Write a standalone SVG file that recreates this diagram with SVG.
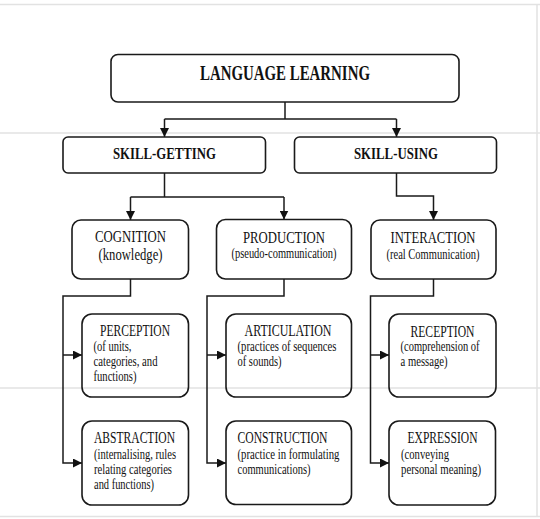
<svg xmlns="http://www.w3.org/2000/svg" width="540" height="519" viewBox="0 0 540 519">
  <defs>
    <marker id="arr" markerUnits="userSpaceOnUse" markerWidth="9" markerHeight="9" viewBox="0 0 10 10" refX="10" refY="5" orient="auto">
      <path d="M0,0 L10,5 L0,10 Z" fill="#111"/>
    </marker>
    <style>
      .frame{stroke:#e2e2e2;stroke-width:1.5;fill:none}
      .box{fill:none;stroke:#1a1a1a;stroke-width:1.6}
      .con{fill:none;stroke:#1a1a1a;stroke-width:1.5}
      .t text{fill:#111}
      .h1{font-size:20px;font-weight:bold;text-anchor:middle}
      .h2{font-size:17px;font-weight:bold;text-anchor:middle}
      .h3{font-size:16.5px}
      .d{font-size:14px}
      .m{text-anchor:middle}
    </style>
  </defs>
  <rect width="540" height="519" fill="#ffffff"/>
  <g id="frame">
    <line class="frame" x1="0" y1="4.5" x2="540" y2="4.5"/>
    <line class="frame" x1="537" y1="4.5" x2="537" y2="516"/>
    <line class="frame" x1="0" y1="133" x2="540" y2="133"/>
    <line class="frame" x1="0" y1="388" x2="540" y2="388"/>
    <line class="frame" x1="0" y1="516.5" x2="540" y2="516.5"/>
  </g>
  <g id="connectors">
    <path class="con" d="M285,102 V119 M164.5,119 H396.5"/>
    <path class="con" d="M164.5,119 V137" marker-end="url(#arr)"/>
    <path class="con" d="M396.5,119 V137" marker-end="url(#arr)"/>
    <path class="con" d="M164.5,173 V197 M130.5,197 H284"/>
    <path class="con" d="M130.5,197 V220" marker-end="url(#arr)"/>
    <path class="con" d="M284,197 V219.5" marker-end="url(#arr)"/>
    <path class="con" d="M396.5,173 V196 H433.5 V220" marker-end="url(#arr)"/>
    <path class="con" d="M130.5,279 V296 H63 V463 H82" marker-end="url(#arr)"/>
    <path class="con" d="M63,355 H82" marker-end="url(#arr)"/>
    <path class="con" d="M284,279 V296 H207 V463 H226" marker-end="url(#arr)"/>
    <path class="con" d="M207,355 H226" marker-end="url(#arr)"/>
    <path class="con" d="M433.5,279 V296 H370.5 V463 H389" marker-end="url(#arr)"/>
    <path class="con" d="M370.5,355 H389" marker-end="url(#arr)"/>
  </g>
  <g class="t" font-family="'Liberation Serif', 'DejaVu Serif', serif">
  <g id="language-learning">
    <rect class="box" x="111" y="54.5" width="348" height="47.5" rx="7"/>
    <text class="h1" x="285" y="79.5" textLength="170" lengthAdjust="spacingAndGlyphs">LANGUAGE LEARNING</text>
  </g>
  <g id="skill-getting">
    <rect class="box" x="63" y="137" width="202.5" height="36" rx="5"/>
    <text class="h2" x="164.5" y="159" textLength="103" lengthAdjust="spacingAndGlyphs">SKILL-GETTING</text>
  </g>
  <g id="skill-using">
    <rect class="box" x="294.5" y="137" width="202" height="36" rx="5"/>
    <text class="h2" x="396" y="159" textLength="84" lengthAdjust="spacingAndGlyphs">SKILL-USING</text>
  </g>
  <g id="cognition">
    <rect class="box" x="72" y="220" width="116.5" height="59" rx="9"/>
    <text class="h3 m" x="130.5" y="242" textLength="71" lengthAdjust="spacingAndGlyphs">COGNITION</text>
    <text class="h3 m" x="130.5" y="259.5" textLength="64" lengthAdjust="spacingAndGlyphs">(knowledge)</text>
  </g>
  <g id="production">
    <rect class="box" x="216.5" y="219.5" width="135" height="59.5" rx="9"/>
    <text class="h3 m" x="284" y="242.5" textLength="82" lengthAdjust="spacingAndGlyphs">PRODUCTION</text>
    <text class="d m" x="284" y="257.5" textLength="105" lengthAdjust="spacingAndGlyphs">(pseudo-communication)</text>
  </g>
  <g id="interaction">
    <rect class="box" x="371" y="220" width="125" height="59" rx="9"/>
    <text class="h3 m" x="433" y="242.5" textLength="85" lengthAdjust="spacingAndGlyphs">INTERACTION</text>
    <text class="d m" x="433" y="259" textLength="93" lengthAdjust="spacingAndGlyphs">(real Communication)</text>
  </g>
  <g id="perception">
    <rect class="box" x="82" y="314" width="106.5" height="83" rx="10"/>
    <text class="h3 m" x="135" y="336" textLength="70" lengthAdjust="spacingAndGlyphs">PERCEPTION</text>
    <text class="d" x="93.5" y="351" textLength="38" lengthAdjust="spacingAndGlyphs">(of units,</text>
    <text class="d" x="93.5" y="366" textLength="64" lengthAdjust="spacingAndGlyphs">categories, and</text>
    <text class="d" x="93.5" y="381" textLength="43" lengthAdjust="spacingAndGlyphs">functions)</text>
  </g>
  <g id="abstraction">
    <rect class="box" x="82" y="421" width="106.5" height="84" rx="10"/>
    <text class="h3" x="94" y="443" textLength="81" lengthAdjust="spacingAndGlyphs">ABSTRACTION</text>
    <text class="d" x="94" y="459" textLength="82" lengthAdjust="spacingAndGlyphs">(internalising, rules</text>
    <text class="d" x="94" y="474" textLength="78" lengthAdjust="spacingAndGlyphs">relating categories</text>
    <text class="d" x="94" y="489" textLength="60" lengthAdjust="spacingAndGlyphs">and functions)</text>
  </g>
  <g id="articulation">
    <rect class="box" x="226" y="314" width="125.5" height="83" rx="10"/>
    <text class="h3 m" x="288" y="336" textLength="87" lengthAdjust="spacingAndGlyphs">ARTICULATION</text>
    <text class="d" x="237.5" y="351" textLength="99" lengthAdjust="spacingAndGlyphs">(practices of sequences</text>
    <text class="d" x="237.5" y="366" textLength="44" lengthAdjust="spacingAndGlyphs">of sounds)</text>
  </g>
  <g id="construction">
    <rect class="box" x="226" y="421" width="125.5" height="83.5" rx="10"/>
    <text class="h3" x="237.5" y="443" textLength="90" lengthAdjust="spacingAndGlyphs">CONSTRUCTION</text>
    <text class="d" x="237.5" y="459" textLength="102" lengthAdjust="spacingAndGlyphs">(practice in formulating</text>
    <text class="d" x="237.5" y="474" textLength="73" lengthAdjust="spacingAndGlyphs">communications)</text>
  </g>
  <g id="reception">
    <rect class="box" x="389" y="314" width="107" height="83" rx="10"/>
    <text class="h3 m" x="442.5" y="336.5" textLength="64" lengthAdjust="spacingAndGlyphs">RECEPTION</text>
    <text class="d" x="400.5" y="351" textLength="79" lengthAdjust="spacingAndGlyphs">(comprehension of</text>
    <text class="d" x="400.5" y="366" textLength="47" lengthAdjust="spacingAndGlyphs">a message)</text>
  </g>
  <g id="expression">
    <rect class="box" x="389" y="421" width="106.5" height="84" rx="10"/>
    <text class="h3 m" x="442.5" y="443" textLength="70" lengthAdjust="spacingAndGlyphs">EXPRESSION</text>
    <text class="d" x="401" y="459" textLength="48" lengthAdjust="spacingAndGlyphs">(conveying</text>
    <text class="d" x="401" y="474" textLength="80" lengthAdjust="spacingAndGlyphs">personal meaning)</text>
  </g>
  </g>
</svg>
